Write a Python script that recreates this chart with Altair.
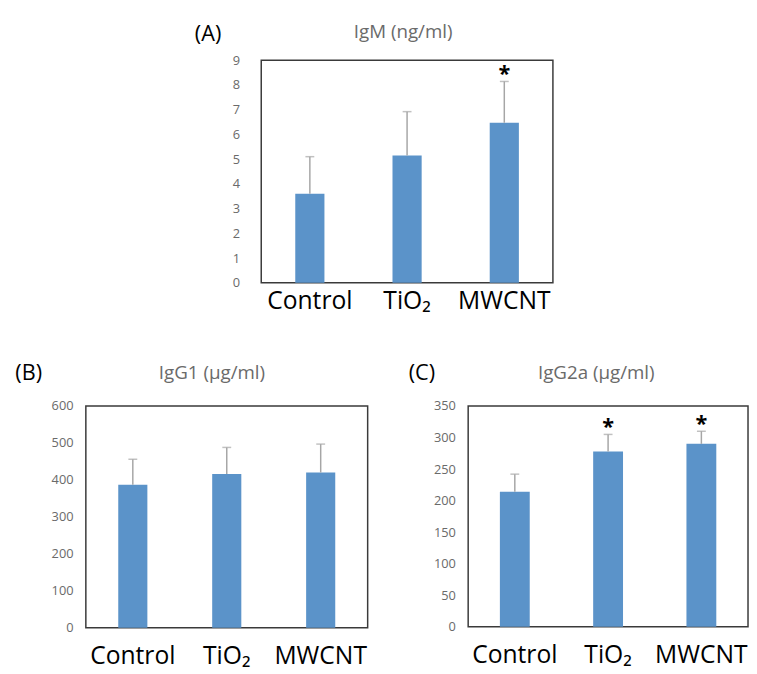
import altair as alt
import pandas as pd

groups = ["Control", "TiO₂", "MWCNT"]

igm_mean = [3.6, 5.15, 6.47]
igm_err = [1.5, 1.77, 1.67]
igm_star = ["", "", "*"]

igg1_mean = [387, 416, 420]
igg1_err = [69, 72, 77]
igg1_star = ["", "", ""]

igg2a_mean = [214, 278, 290]
igg2a_err = [28, 27, 20]
igg2a_star = ["", "*", "*"]

FONT = "Open Sans"
BAR = "#5b93c9"
ERR = "#a6a6a6"
GRAY = "#6a6a6a"


def panel(title, letter, mean, err, star, ymax, ystep, width, height,
          pad_inner, title_dx, title_dy, letter_dx, letter_dy,
          ylabel_pad, xlabel_pad):
    df = pd.DataFrame({
        "group": groups,
        "mean": mean,
        "upper": [m + e for m, e in zip(mean, err)],
        "star": star,
    })
    xaxis = alt.Axis(title=None, labelAngle=0, labelFontSize=25,
                     labelColor="black", labelFont=FONT, ticks=False,
                     domain=False, labelPadding=xlabel_pad,
                     labelOverlap=False, labelBound=False)
    yaxis = alt.Axis(title=None, values=list(range(0, ymax + 1, ystep)),
                     grid=False, ticks=False, domain=False,
                     labelColor=GRAY, labelFontSize=13, labelFont=FONT,
                     labelPadding=ylabel_pad, labelOverlap=False)
    xscale = alt.Scale(paddingInner=pad_inner, paddingOuter=pad_inner / 2)
    yscale = alt.Scale(domain=[0, ymax], nice=False)
    xs = alt.X("group:N", sort=groups, scale=xscale, axis=xaxis)
    base = alt.Chart(df)
    bars = base.mark_bar(color=BAR).encode(
        x=xs, y=alt.Y("mean:Q", scale=yscale, axis=yaxis))
    rule = base.mark_rule(color=ERR, strokeWidth=1.5).encode(
        x=xs, y=alt.Y("mean:Q", scale=yscale, axis=yaxis), y2="upper:Q")
    cap = base.mark_tick(color=ERR, size=9, thickness=1.5).encode(
        x=xs, y=alt.Y("upper:Q", scale=yscale, axis=yaxis))
    stars = base.mark_text(font=FONT, fontSize=22, fontWeight="bold",
                           color="black", baseline="alphabetic", dy=0).encode(
        x=xs, y=alt.Y("upper:Q", scale=yscale, axis=yaxis), text="star:N")
    lab = alt.Chart(pd.DataFrame({"l": [letter]})).mark_text(
        font=FONT, fontSize=22, color="black", align="center",
        baseline="middle").encode(
        x=alt.value(letter_dx), y=alt.value(letter_dy), text="l:N")
    ttl = alt.Chart(pd.DataFrame({"t": [title]})).mark_text(
        font=FONT, fontSize=19, color=GRAY, align="center",
        baseline="middle").encode(
        x=alt.value(width / 2 + title_dx), y=alt.value(title_dy), text="t:N")
    return alt.layer(bars, rule, cap, stars, lab, ttl).properties(
        width=width, height=height)


pA = panel("IgM (ng/ml)", "(A)", igm_mean, igm_err, igm_star, 9, 1,
           296, 226, 0.70, -4, -28, -54, -26, 22, 6)
pB = panel("IgG1 (μg/ml)", "(B)", igg1_mean, igg1_err, igg1_star, 600, 100,
           286, 225, 0.69, -15, -33, -58, -33, 13, 16)
pC = panel("IgG2a (μg/ml)", "(C)", igg2a_mean, igg2a_err, igg2a_star, 350, 50,
           284, 224, 0.68, -12, -33, -47, -33, 13, 16)

spacer = alt.Chart(pd.DataFrame({"a": [0]})).mark_point(opacity=0).encode(
    x=alt.value(0), y=alt.value(0)).properties(
    width=178, height=226, view=alt.ViewBackground(stroke="transparent"))

top = alt.hconcat(spacer, pA, spacing=0, bounds="flush")
bottom = alt.hconcat(pB, pC, spacing=102, bounds="flush")

chart = alt.vconcat(top, bottom, spacing=48).properties(
    padding={"left": 6, "top": 10, "right": 0, "bottom": 0}
).configure_view(stroke="#3a3a3a", strokeWidth=1.5
).configure_axis(labelOverlap=False)

chart.save("out.html", embed_options={"renderer": "svg", "actions": False})
